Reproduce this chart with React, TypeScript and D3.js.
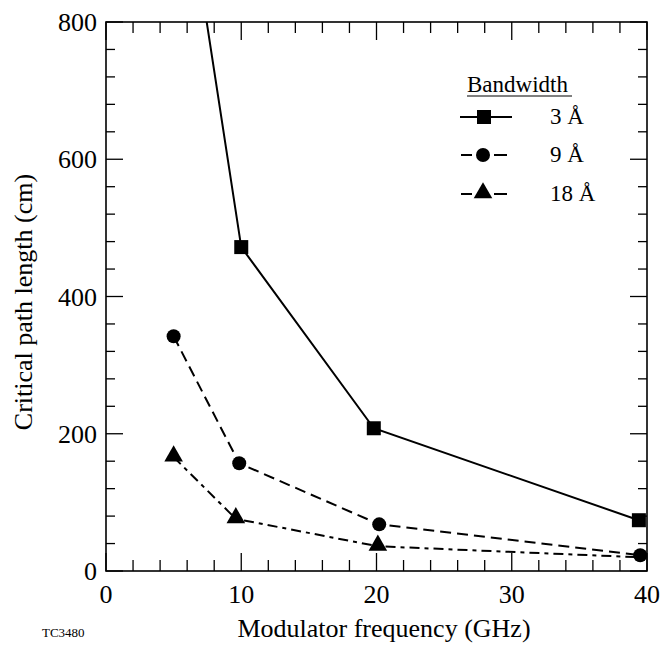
import React from "react";
import * as d3 from "d3";

const freq3 = [5, 10, 19.8, 39.4];
const len3 = [1114, 472, 208, 74];
const freq9 = [5, 9.85, 20.2, 39.5];
const len9 = [342, 157, 68, 23];
const freq18 = [5, 9.6, 20.1, 39.5];
const len18 = [166, 76, 36, 20];

const xTicks = [0, 10, 20, 30, 40];
const yTicks = [0, 200, 400, 600, 800];
const legendLabels = ["3 Å", "9 Å", "18 Å"];

const W = 662, H = 652;
const L = 106, R = 647, T = 22, B = 571;

function Txt(props: any) {
  const { size, children, ...rest } = props;
  return (
    <text {...rest} fontFamily="Liberation Serif" fontSize={size} className="serif" style={{ fontFamily: "Liberation Serif" }}>
      {children}
    </text>
  );
}

export default function App() {
  const x = d3.scaleLinear().domain([0, 40]).range([L, R]);
  const y = d3.scaleLinear().domain([0, 800]).range([B, T]);
  const line = d3.line<[number, number]>().x(d => x(d[0])).y(d => y(d[1]));
  const s3 = freq3.map((f, i) => [f, len3[i]] as [number, number]);
  const s9 = freq9.map((f, i) => [f, len9[i]] as [number, number]);
  const s18 = freq18.map((f, i) => [f, len18[i]] as [number, number]);

  const xMinor = d3.range(0, 41, 2);
  const yMinor = d3.range(0, 801, 40);
  const tri = d3.symbol().type(d3.symbolTriangle).size(150)();

  const legendY = [117, 155, 194];

  return (
    <svg width={W} height={H} style={{ position: "absolute", left: 0, top: 0, display: "block", fontFamily: "Liberation Serif" }}>
      <style>{`text.serif { font-family: "Liberation Serif" !important; }`}</style>
      <defs>
        <clipPath id="plot">
          <rect x={L} y={T} width={R - L} height={B - T} />
        </clipPath>
      </defs>
      <rect x={0} y={0} width={W} height={H} fill="#fff" />
      {xMinor.map(v => {
        const major = v % 10 === 0;
        const len = major ? 18 : 11;
        return (
          <g key={"xt" + v}>
            <line x1={x(v)} x2={x(v)} y1={B} y2={B - len} stroke="#000" strokeWidth={1.3} />
            <line x1={x(v)} x2={x(v)} y1={T} y2={T + len} stroke="#000" strokeWidth={1.3} />
          </g>
        );
      })}
      {yMinor.map(v => {
        const major = v % 200 === 0;
        const len = major ? 17 : 9;
        return (
          <g key={"yt" + v}>
            <line x1={L} x2={L + len} y1={y(v)} y2={y(v)} stroke="#000" strokeWidth={1.3} />
            <line x1={R} x2={R - len} y1={y(v)} y2={y(v)} stroke="#000" strokeWidth={1.3} />
          </g>
        );
      })}
      <rect x={L} y={T} width={R - L} height={B - T} fill="none" stroke="#000" strokeWidth={1.6} />
      {xTicks.map(v => (
        <Txt key={"xl" + v} x={x(v)} y={603} textAnchor="middle" size={26}>{v}</Txt>
      ))}
      {yTicks.map(v => (
        <Txt key={"yl" + v} x={97} y={y(v) + 9} textAnchor="end" size={26}>{v}</Txt>
      ))}
      <Txt x={384} y={637} textAnchor="middle" size={26}>Modulator frequency (GHz)</Txt>
      <Txt transform={`translate(32,302) rotate(-90)`} textAnchor="middle" size={26}>Critical path length (cm)</Txt>
      <Txt x={42} y={637} size={13}>TC3480</Txt>
      <g clipPath="url(#plot)">
        <path d={line(s3) || ""} fill="none" stroke="#000" strokeWidth={2} />
        <path d={line(s9) || ""} fill="none" stroke="#000" strokeWidth={2} strokeDasharray="11,6" />
        <path d={line(s18) || ""} fill="none" stroke="#000" strokeWidth={2} strokeDasharray="10,5,4,5" />
        {s18.slice(0, 3).map((d, i) => (
          <path key={"t" + i} d={tri || ""} transform={`translate(${x(d[0])},${y(d[1]) - 1})`} fill="#000" />
        ))}
        {s9.map((d, i) => (
          <circle key={"c" + i} cx={x(d[0])} cy={y(d[1])} r={7} fill="#000" />
        ))}
        {s3.map((d, i) => (
          <rect key={"s" + i} x={x(d[0]) - 7} y={y(d[1]) - 7} width={14} height={14} fill="#000" />
        ))}
      </g>
      <Txt x={467} y={92} size={23}>Bandwidth</Txt>
      <line x1={467} x2={572} y1={96} y2={96} stroke="#000" strokeWidth={1.2} />
      {legendLabels.map((lab, i) => {
        const cy = legendY[i];
        return (
          <g key={"lg" + i}>
            {i === 0 ? (
              <line x1={460} x2={512} y1={cy} y2={cy} stroke="#000" strokeWidth={2} />
            ) : (
              <g>
                <line x1={461} x2={472} y1={cy} y2={cy} stroke="#000" strokeWidth={2} />
                <line x1={494} x2={507} y1={cy} y2={cy} stroke="#000" strokeWidth={2} />
              </g>
            )}
            {i === 0 && <rect x={477} y={cy - 7} width={14} height={14} fill="#000" />}
            {i === 1 && <circle cx={483} cy={cy} r={7} fill="#000" />}
            {i === 2 && <path d={tri || ""} transform={`translate(483,${cy - 1})`} fill="#000" />}
            <Txt x={550} y={cy + 7} size={23}>{lab}</Txt>
          </g>
        );
      })}
    </svg>
  );
}
